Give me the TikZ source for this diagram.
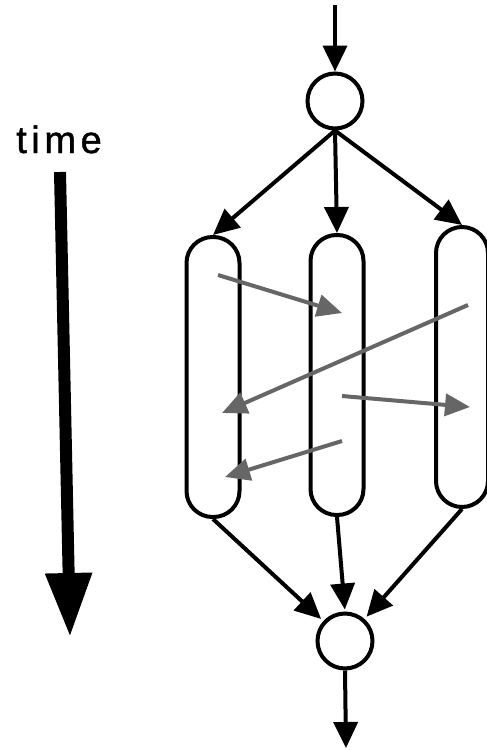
\documentclass[tikz,border=0pt]{standalone}
\usepackage{fontspec}
\setmainfont{Liberation Sans}
\newfontfamily\timefont[LetterSpace=12,FakeBold=1.2]{Liberation Sans}
\usetikzlibrary{arrows.meta}
\begin{document}
\begin{tikzpicture}[x=1pt,y=-1pt,
  flow/.style={line width=4pt,-{Triangle[length=26pt,width=24pt]}},
  msg/.style={line width=4pt,black!60,-{Triangle[length=25pt,width=22pt]}},
  junction/.style={circle,draw,line width=4pt,minimum size=55pt,inner sep=0pt},
  pill/.style={draw,line width=4pt,rounded corners=26pt,minimum width=53pt,minimum height=280pt,inner sep=0pt}]
\useasboundingbox (0,0) rectangle (487,750);
% nodes
\node[junction] (tc) at (335,101) {};
\node[junction] (bc) at (345,641) {};
\node[pill] (L) at (213,377) {};
\node[pill] (M) at (337,375) {};
\node[pill,minimum width=52pt] (R) at (462,367) {};
\coordinate (in) at (335,5);
\coordinate (out) at (346,748);
% flow arrows
\draw[flow] (in) -- (tc.north);
\draw[flow] (tc.south) -- (L.north);
\draw[flow] (tc.south) -- (M.north);
\draw[flow] (tc.south) -- (R.north);
\draw[flow,shorten >=3pt] (L.south) -- (bc);
\draw[flow,shorten >=2pt] (M.south) -- (bc.north);
\draw[flow,shorten >=3pt] (R.south) -- (bc);
\draw[flow] (bc.south) -- (out);
% message arrows
\coordinate (m1s) at (218,275); \coordinate (m1e) at (342,313);
\coordinate (m2s) at (468,305); \coordinate (m2e) at (222,413);
\coordinate (m3s) at (342,396); \coordinate (m3e) at (470,407);
\coordinate (m4s) at (342,441); \coordinate (m4e) at (225,477);
\draw[msg] (m1s) -- (m1e);
\draw[msg] (m2s) -- (m2e);
\draw[msg] (m3s) -- (m3e);
\draw[msg] (m4s) -- (m4e);
% time
\node[anchor=base,inner sep=0pt] (time) at (59,153) {\timefont\fontsize{38}{41}\selectfont time};
\coordinate (ts) at (60,172);
\coordinate (te) at (70,637);
\draw[line width=12pt,-{Triangle[length=64pt,width=44pt]}] (ts) -- (te);
\end{tikzpicture}
\end{document}
